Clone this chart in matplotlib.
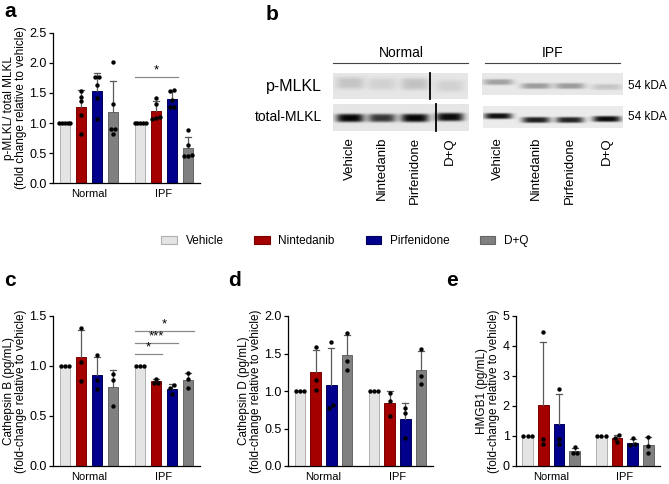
import numpy as np
import matplotlib
matplotlib.use("Agg")
import matplotlib.pyplot as plt
import matplotlib.patches as mpatches

plt.rcParams['font.family'] = ['Liberation Sans', 'DejaVu Sans']

# ---- data ----
groups = ["Normal", "IPF"]
treatments = ["Vehicle", "Nintedanib", "Pirfenidone", "D+Q"]
colors = ["#e4e4e4", "#a50000", "#00008c", "#808080"]
edges = ["#b0b0b0", "#7a0000", "#00005a", "#666666"]

# individual points per bar (Normal then IPF, each in treatment order)
mlkl_normal = [[1, 1, 1, 1, 1], [1.54, 1.44, 1.37, 1.14, 0.82],
               [1.77, 1.77, 1.63, 1.42, 1.07], [2.02, 1.31, 0.90, 0.90, 0.82]]
mlkl_ipf = [[1, 1, 1, 1, 1], [1.42, 1.32, 1.08, 1.10, 1.07],
            [1.55, 1.53, 1.38, 1.27, 1.26], [0.89, 0.64, 0.47, 0.45, 0.45]]
ctsb_normal = [[1, 1, 1], [1.38, 1.04, 0.85], [1.11, 0.86, 0.77], [0.92, 0.86, 0.60]]
ctsb_ipf = [[1, 1, 1], [0.875, 0.835, 0.83], [0.815, 0.78, 0.72], [0.93, 0.87, 0.785]]
ctsd_normal = [[1, 1, 1], [1.59, 1.15, 1.02], [1.65, 0.82, 0.78], [1.78, 1.40, 1.28]]
ctsd_ipf = [[1, 1, 1], [0.98, 0.87, 0.67], [0.78, 0.71, 0.38], [1.56, 1.20, 1.10]]
hmgb1_normal = [[1, 1, 1], [4.46, 0.89, 0.73], [2.56, 0.89, 0.72], [0.62, 0.45, 0.45]]
hmgb1_ipf = [[1, 1, 1], [1.03, 0.94, 0.80], [0.92, 0.72, 0.70], [0.98, 0.66, 0.43]]

# significance: (from bar, to bar, height, label) - bar index 0..7
sig_a = [(4, 6, 1.77, "*")]
sig_c = [(4, 5, 1.12, "*"), (4, 6, 1.23, "***"), (4, 7, 1.35, "*")]

# western blot band darkness per lane
blot_lanes = ["Vehicle", "Nintedanib", "Pirfenidone", "D+Q"]
pmlkl_normal = [0.13, 0.08, 0.14, 0.08]
pmlkl_ipf = [0.28, 0.30, 0.30, 0.14]
total_normal = [0.88, 0.68, 0.88, 0.86]
total_ipf = [0.86, 0.80, 0.78, 0.88]

W, H = 669, 484
fig = plt.figure(figsize=(W / 100, H / 100), dpi=100)


def place(l, t, r, b):
    return fig.add_axes([l / W, 1 - b / H, (r - l) / W, (b - t) / H])


pos = [0, 1, 2, 3, 4.7, 5.7, 6.7, 7.7]


def swarm(vals, ppu_y, ppu_x, d=4.3):
    # spread points that sit on the same height
    vals = np.asarray(vals, float)
    order = np.argsort(vals)
    offs = np.zeros(len(vals))
    clusters = []
    for i in order:
        if clusters and abs(vals[i] - vals[clusters[-1][-1]]) * ppu_y < 3.5:
            clusters[-1].append(i)
        else:
            clusters.append([i])
    for c in clusters:
        k = len(c)
        if k > 1:
            w = min((k - 1) * d / 2, 5.5)
            for j, o in zip(c, np.linspace(-w, w, k)):
                offs[j] = o / ppu_x
    return offs


def bar_panel(ax, normal, ipf, ymax, yticks, fmt, ylabel, sig=()):
    ax.set_xlim(-0.75, 8.45)
    ax.set_ylim(0, ymax)
    ppu_y = ax.bbox.height / ymax
    ppu_x = ax.bbox.width / 9.2
    data = normal + ipf
    for i, pts in enumerate(data):
        c = i % 4
        m = np.mean(pts)
        sd = np.std(pts, ddof=1)
        ax.bar(pos[i], m, width=0.67, color=colors[c], edgecolor=edges[c],
               linewidth=0.7, zorder=1)
        if sd > 0:
            ax.plot([pos[i], pos[i]], [m, m + sd], color="#5a5a5a", lw=0.9, zorder=2)
            ax.plot([pos[i] - 0.19, pos[i] + 0.19], [m + sd, m + sd],
                    color="#5a5a5a", lw=0.9, zorder=2)
        offs = swarm(pts, ppu_y, ppu_x)
        ax.scatter(np.array([pos[i]] * len(pts)) + offs, pts, s=10, color="black",
                   zorder=3, linewidths=0)
    for a, b, y, lab in sig:
        ax.plot([pos[a] - 0.3, pos[b] + 0.35], [y, y], color="#8a8a8a", lw=0.9)
        ax.text((pos[a] - 0.3 + pos[b] + 0.35) / 2, y + 0.005 * ymax, lab,
                ha="center", va="bottom", fontsize=9.5)
    ax.set_yticks(yticks)
    ax.set_yticklabels([fmt.format(t) for t in yticks])
    ax.set_xticks([1.5, 6.2])
    ax.set_xticklabels(groups)
    ax.tick_params(axis="x", length=0, pad=4, labelsize=8)
    ax.tick_params(axis="y", length=3, width=0.9, pad=1.5, labelsize=9)
    for s in ["top", "right"]:
        ax.spines[s].set_visible(False)
    for s in ["left", "bottom"]:
        ax.spines[s].set_linewidth(0.9)
    ax.set_ylabel(ylabel, fontsize=8.5, labelpad=2, linespacing=1.0)


ax_a = place(53, 33, 200, 183)
bar_panel(ax_a, mlkl_normal, mlkl_ipf, 2.5, [0, 0.5, 1.0, 1.5, 2.0, 2.5], "{:.1f}",
          "p-MLKL/ total MLKL\n(fold change relative to vehicle)", sig_a)

ax_c = place(53, 316, 200, 466)
bar_panel(ax_c, ctsb_normal, ctsb_ipf, 1.5, [0, 0.5, 1.0, 1.5], "{:.1f}",
          "Cathepsin B (pg/mL)\n(fold-change relative to vehicle)", sig_c)

ax_d = place(288, 316, 433, 466)
bar_panel(ax_d, ctsd_normal, ctsd_ipf, 2.0, [0, 0.5, 1.0, 1.5, 2.0], "{:.1f}",
          "Cathepsin D (pg/mL)\n(fold-change relative to vehicle)")

ax_e = place(516, 316, 660, 466)
bar_panel(ax_e, hmgb1_normal, hmgb1_ipf, 5, [0, 1, 2, 3, 4, 5], "{:.0f}",
          "HMGB1 (pg/mL)\n(fold-change relative to vehicle)")

# ---- panel b: western blot ----
ax_b = place(230, 0, 669, 230)


def strip(x0, x1, y0, y1, lanes, band_y, dark, bw, bh, bg):
    X = np.linspace(x0, x1, int(x1 - x0) * 2)
    Y = np.linspace(y0, y1, int(y1 - y0) * 2)
    img = np.full((len(Y), len(X)), bg)
    for cx, by, dk in zip(lanes, band_y, dark):
        gx = np.exp(-((X - cx) / bw) ** 4)
        gy = np.exp(-((Y - by) / bh) ** 4)
        img -= dk * np.outer(gy, gx)
    ax_b.imshow(np.clip(img, 0, 1), extent=(x0, x1, y1, y0), cmap="gray", vmin=0,
                vmax=1, aspect="auto", interpolation="bilinear")


lanes_n = [350, 382, 415, 450]
lanes_i = [498, 536, 570, 607]
strip(333, 468, 73, 99, lanes_n, [83, 84, 84, 86], pmlkl_normal, 14, 6, 0.9)
strip(333, 469, 104, 131, lanes_n, [118, 118, 118, 117], total_normal, 14, 4.2, 0.9)
strip(482, 623, 73, 95, lanes_i, [82, 86, 86, 87], pmlkl_ipf, 15, 3, 0.91)
strip(483, 623, 106, 128, lanes_i, [116, 120, 120, 119], total_ipf, 14, 3, 0.92)
ax_b.plot([430, 430], [73, 99], color="black", lw=1.3)
ax_b.plot([436, 436], [104, 131], color="black", lw=1.3)

ax_b.plot([333, 468], [63, 63], color="#444444", lw=0.8)
ax_b.plot([485, 620], [63, 63], color="#444444", lw=0.8)
ax_b.text(401, 57, groups[0], ha="center", va="baseline", fontsize=10)
ax_b.text(553, 57, groups[1], ha="center", va="baseline", fontsize=10)
ax_b.text(322, 86, "p-MLKL", ha="right", va="center", fontsize=11.5)
ax_b.text(322, 117, "total-MLKL", ha="right", va="center", fontsize=10)
ax_b.text(628, 86, "54 kDA", ha="left", va="center", fontsize=8.5)
ax_b.text(628, 117, "54 kDA", ha="left", va="center", fontsize=8.5)
for xs in (lanes_n, lanes_i):
    for x, lab in zip(xs, blot_lanes):
        ax_b.text(x, 137, lab, rotation=90, ha="center", va="top", fontsize=9.5)
ax_b.set_xlim(230, 669)
ax_b.set_ylim(230, 0)
ax_b.axis("off")

# ---- legend ----
handles = [mpatches.Patch(facecolor=colors[i], edgecolor=edges[i], lw=0.8)
           for i in range(4)]
fig.legend(handles, treatments, loc="center", bbox_to_anchor=(345 / W, 1 - 241 / H),
           ncol=4, frameon=False, fontsize=8.5, handlelength=1.3, handleheight=0.6,
           handletextpad=0.75, columnspacing=2.6)

# panel letters
for x, y, lab in [(4, 17, "a"), (266, 20, "b"), (4, 286, "c"), (228, 286, "d"),
                  (446, 286, "e")]:
    fig.text(x / W, 1 - y / H, lab, fontsize=15, fontweight="bold", va="baseline")

fig.savefig("out.png", dpi=100)
